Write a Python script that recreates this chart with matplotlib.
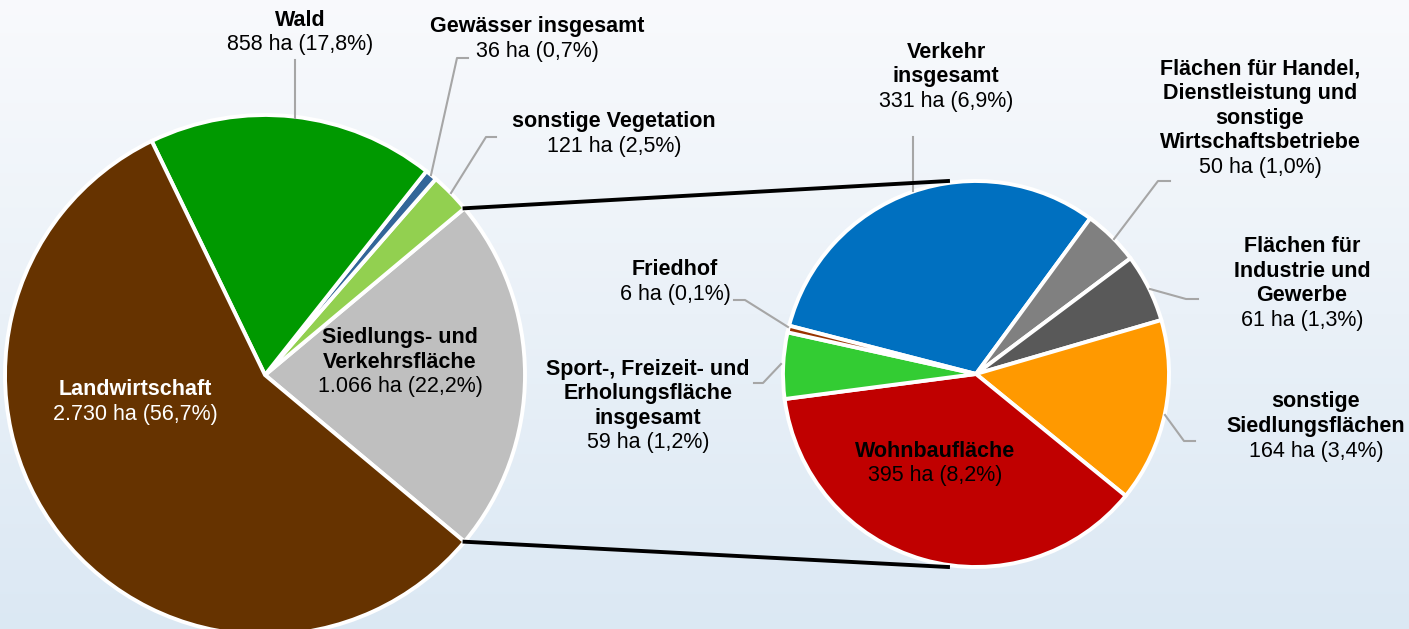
import numpy as np
import matplotlib
matplotlib.use("Agg")
import matplotlib.pyplot as plt

plt.rcParams['font.family'] = ['Liberation Sans', 'DejaVu Sans']

# Hauptkreis: Flächennutzung gesamt (ha)
main_names = ["Siedlungs- und\nVerkehrsfläche", "sonstige Vegetation", "Gewässer insgesamt",
              "Wald", "Landwirtschaft"]
main_vals = [1066, 121, 36, 858, 2730]
main_colors = ["#bfbfbf", "#92d050", "#336699", "#009900", "#663300"]

# Zweitkreis: Aufteilung Siedlungs- und Verkehrsfläche (ha)
sub_names = ["Verkehr\ninsgesamt", "Flächen für Handel,\nDienstleistung und\nsonstige\nWirtschaftsbetriebe",
             "Flächen für\nIndustrie und\nGewerbe", "sonstige\nSiedlungsflächen", "Wohnbaufläche",
             "Sport-, Freizeit- und\nErholungsfläche\ninsgesamt", "Friedhof"]
sub_vals = [331, 50, 61, 164, 395, 59, 6]
sub_colors = ["#0070c0", "#808080", "#595959", "#ff9900", "#c00000", "#33cc33", "#993300"]

total = sum(main_vals)

W, H = 1409, 629
fig = plt.figure(figsize=(W / 100, H / 100), dpi=100)
ax = fig.add_axes([0, 0, 1, 1])

# hintergrund verlauf (oben hell, unten hellblau)
grad = np.linspace(0, 1, 256).reshape(-1, 1)
top = np.array([0.975, 0.98, 0.99])
bot = np.array([0.86, 0.91, 0.955])
img = top + (bot - top) * grad[:, :, None]
ax.imshow(img, extent=[0, W, 0, H], aspect='auto', zorder=0)

def py(y):
    # pixel y (von oben) -> daten y
    return H - y

c1, r1 = (265, py(375)), 260
c2, r2 = (976, py(374)), 193

start1 = -main_vals[0] / total * 360 / 2
ax.pie(main_vals, colors=main_colors, startangle=start1, counterclock=True,
       center=c1, radius=r1, frame=True,
       wedgeprops=dict(edgecolor='white', linewidth=2.8))
ax.pie(sub_vals, colors=sub_colors, startangle=165.5, counterclock=False,
       center=c2, radius=r2, frame=True,
       wedgeprops=dict(edgecolor='white', linewidth=2.8))

# verbindungslinien
a = np.deg2rad(-start1)
ax.plot([c1[0] + r1 * np.cos(a), 948], [c1[1] + r1 * np.sin(a), py(181)], color='black', lw=2.8, zorder=5)
ax.plot([c1[0] + r1 * np.cos(-a), 948], [c1[1] + r1 * np.sin(-a), py(567)], color='black', lw=2.8, zorder=5)

def fmt(v):
    pct = f"{v / total * 100:.1f}".replace(".", ",")
    return f"{v:,}".replace(",", ".") + f" ha ({pct}%)"

def label(name, v, x, ycenter, color='black'):
    lines = name.split("\n") + [fmt(v)]
    n = len(lines)
    step = 24.5
    y0 = ycenter - (n - 1) * step / 2
    for i, ln in enumerate(lines):
        ax.text(x, py(y0 + i * step), ln, ha='center', va='center', fontsize=15.5,
                fontweight='bold' if i < n - 1 else 'normal', color=color, zorder=6)

def leader(pts):
    xs = [p[0] for p in pts]
    ys = [py(p[1]) for p in pts]
    ax.plot(xs, ys, color='#a6a6a6', lw=1.5, zorder=4)

# beschriftungen hauptkreis
label(main_names[0], main_vals[0], 400, 362)
label(main_names[1], main_vals[1], 614, 134)
label(main_names[2], main_vals[2], 537, 39)
label(main_names[3], main_vals[3], 300, 32.5)
label(main_names[4], main_vals[4], 135, 402, color='white')

# beschriftungen zweitkreis
label(sub_names[0], sub_vals[0], 946, 76.5)
label(sub_names[1], sub_vals[1], 1260, 118.5)
label(sub_names[2], sub_vals[2], 1302, 283.5)
label(sub_names[3], sub_vals[3], 1316, 426.5)
label(sub_names[4], sub_vals[4], 935, 463.5)
label(sub_names[5], sub_vals[5], 648, 406)
label(sub_names[6], sub_vals[6], 675, 282)

leader([(295, 60), (295, 118)])
leader([(468, 58), (457, 58), (431, 175)])
leader([(496, 137), (486, 137), (451, 193)])
leader([(913, 137), (913, 191)])
leader([(1170, 181), (1158, 181), (1114, 239)])
leader([(1198, 299), (1186, 299), (1150, 289)])
leader([(1195, 441), (1184, 441), (1165, 415)])
leader([(754, 383), (763, 383), (781, 364)])
leader([(734, 300), (745, 300), (788, 327)])

ax.set_xlim(0, W)
ax.set_ylim(0, H)
ax.set_aspect('auto')
ax.axis('off')

fig.savefig("out.png", dpi=100)
